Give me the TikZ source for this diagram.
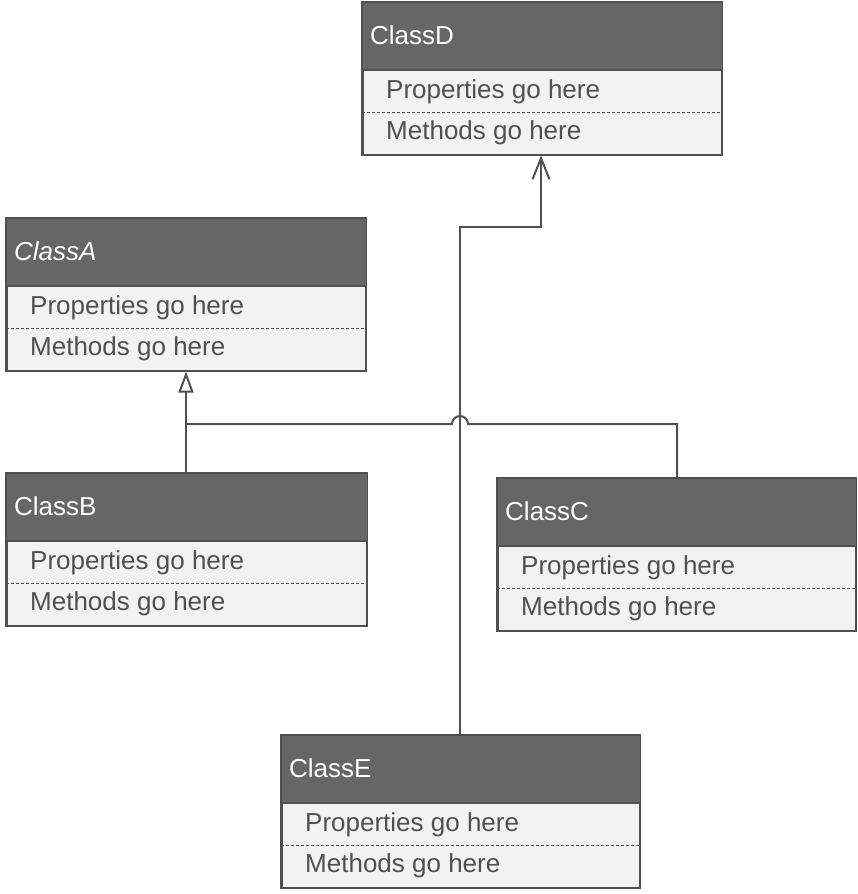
\documentclass[tikz,border=0pt]{standalone}
\usepackage{fontspec}
\setmainfont{Liberation Sans}
\usetikzlibrary{arrows.meta,calc}
\definecolor{headc}{HTML}{666666}
\definecolor{bodyc}{HTML}{F2F2F2}
\definecolor{linec}{HTML}{505050}
\definecolor{txtc}{HTML}{505050}
\tikzset{
  umltext/.style={font=\fontsize{26}{28}\selectfont, inner sep=0pt, anchor=west},
  conn/.style={draw=linec, line width=2pt},
}
% [title font] name, left x, top y, width
\newcommand\umlclass[6][]{%
  \node[draw=linec, fill=bodyc, line width=1.6pt, minimum width=#5pt, minimum height=152pt,
        anchor=north west, inner sep=0pt] (#2) at (#3,#4) {};
  \fill[headc] (#2.north west) rectangle ($(#2.north east)+(0,68)$);
  \draw[linec, line width=1.6pt] ($(#2.north west)+(0,68)$) -- ($(#2.north east)+(0,68)$);
  \draw[linec, line width=1pt, dash pattern=on 3pt off 2pt] ($(#2.north west)+(0,110)$) -- ($(#2.north east)+(0,110)$);
  \draw[linec, line width=1.6pt] (#2.north west) rectangle (#2.south east);
  \node[umltext, text=white, font=\fontsize{26}{28}\selectfont#1] (#2-title) at ($(#2.north west)+(8,33)$) {Class#2};
  \node[umltext, text=txtc] (#2-props) at ($(#2.north west)+(24,90)$) {Properties go here};
  \node[umltext, text=txtc] (#2-meth) at ($(#2.north west)+(24,131)$) {Methods go here};
}
\begin{document}
\begin{tikzpicture}[x=1pt, y=-1pt]
\useasboundingbox (0,0) rectangle (858,894);
\umlclass{D}{362}{2}{359}{}
\umlclass[\itshape]{A}{6}{218}{359}{}
\umlclass{B}{6}{473}{360}{}
\umlclass{C}{497}{478}{358}{}
\umlclass{E}{281}{735}{358}{}
% generalization
\coordinate (jB) at (186,424);
\coordinate (jC) at (677,424);
\coordinate (hopL) at (452,424);
\draw[conn] (B.north -| jB) -- (jB);
\draw[conn, -{Triangle[open, length=21pt, width=15pt, fill=white]}] (jB) -- (A.south -| jB);
\draw[conn] (jB) -- (hopL) arc[start angle=180, end angle=360, radius=8] -- (jC) -- (C.north -| jC);
% dependency E -> D
\coordinate (eTop) at (460,227);
\coordinate (dBot) at (541,227);
\draw[conn, -{Straight Barb[length=21pt, width=17pt]}] (E.north -| eTop) -- (eTop) -- (dBot) -- (D.south -| dBot);
\end{tikzpicture}
\end{document}
